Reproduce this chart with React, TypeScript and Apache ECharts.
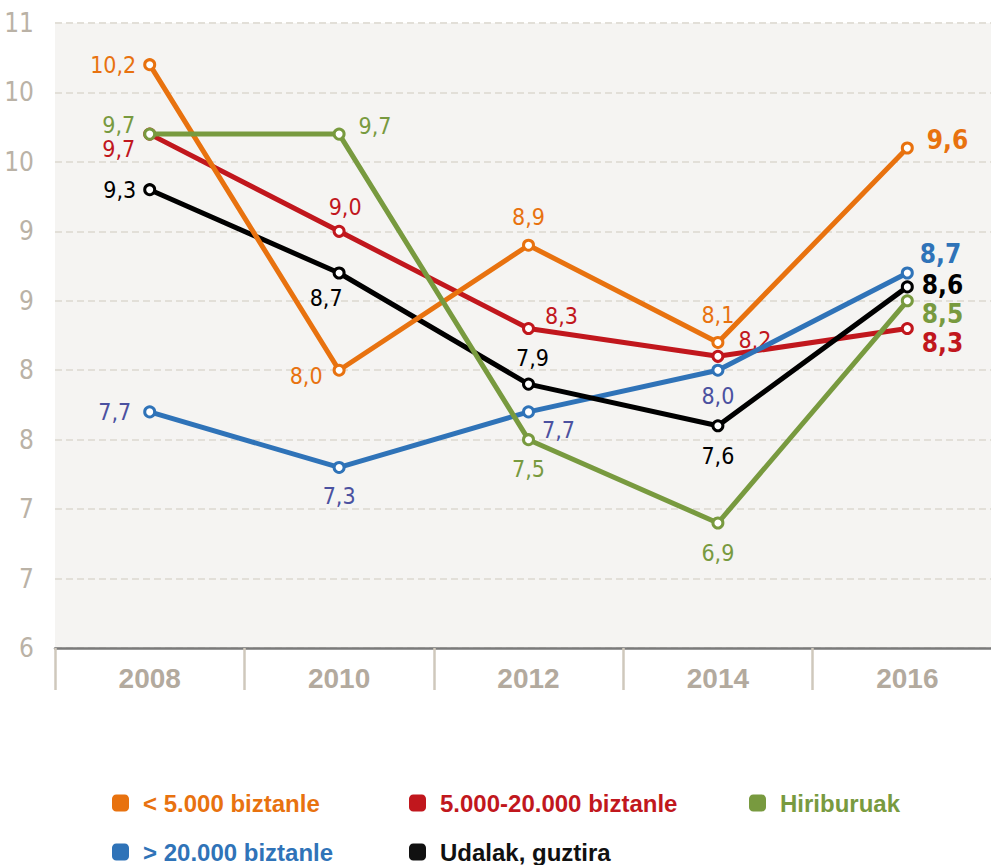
import React, { useEffect, useRef } from "react";
import * as echarts from "echarts";

const years = ["2008", "2010", "2012", "2014", "2016"];

const under5k = [10.2, 8.0, 8.9, 8.2, 9.6];
const under5kLabels = ["10,2", "8,0", "8,9", "8,1", "9,6"];
const mid5to20k = [9.7, 9.0, 8.3, 8.1, 8.3];
const mid5to20kLabels = ["9,7", "9,0", "8,3", "8,2", "8,3"];
const capitals = [9.7, 9.7, 7.5, 6.9, 8.5];
const capitalsLabels = ["9,7", "9,7", "7,5", "6,9", "8,5"];
const over20k = [7.7, 7.3, 7.7, 8.0, 8.7];
const over20kLabels = ["7,7", "7,3", "7,7", "8,0", "8,7"];
const total = [9.3, 8.7, 7.9, 7.6, 8.6];
const totalLabels = ["9,3", "8,7", "7,9", "7,6", "8,6"];

const NAME_UNDER5K = "< 5.000 biztanle";
const NAME_MID = "5.000-20.000 biztanle";
const NAME_CAP = "Hiriburuak";
const NAME_OVER20K = "> 20.000 biztanle";
const NAME_TOTAL = "Udalak, guztira";

const ORANGE = "#e8720f";
const RED = "#c1171d";
const GREEN = "#789a3f";
const BLUE = "#2f73b8";
const BLUE_LABEL = "#4b51a0";
const BLACK = "#000000";

const NARROW = "'Liberation Sans Narrow', 'DejaVu Sans Condensed', 'Roboto Condensed', Roboto, sans-serif";
const SANS = "'Liberation Sans', Arial, sans-serif";

type Layout = [string, number, number, number];

const orangeLayout: Layout[] = [["left", 7, 0, 0], ["left", 10, 0, 6], ["top", 10, 0, 0], ["top", 9, 0, 0], ["right", 13, 0, -8]];
const redLayout: Layout[] = [["left", 8, 0, 15], ["top", 6, 6, 0], ["right", 10, 0, -13], ["right", 14, 0, -16], ["right", 8, 0, 14]];
const greenLayout: Layout[] = [["left", 8, 0, -9], ["right", 13, 0, -8], ["bottom", 11, 0, 0], ["bottom", 12, 0, 0], ["right", 8, 0, 13]];
const blueLayout: Layout[] = [["left", 12, 0, 0], ["bottom", 11, 0, 0], ["right", 7, 0, 18], ["bottom", 8, 0, 0], ["right", 6, 0, -19]];
const blackLayout: Layout[] = [["left", 7, 0, 0], ["bottom", 7, -13, 0], ["top", 8, 4, 0], ["bottom", 12, 0, 0], ["right", 8, 0, -2]];

function makeSeries(name: string, values: number[], labels: string[], color: string, labelColor: string, layout: Layout[], z: number) {
  return {
    name,
    type: "line",
    z,
    symbol: "circle",
    symbolSize: 10,
    showAllSymbol: true,
    lineStyle: { color, width: 5 },
    itemStyle: { color: "#ffffff", borderColor: color, borderWidth: 3 },
    emphasis: { disabled: true },
    data: values.map((v, i) => {
      const [pos, dist, dx, dy] = layout[i];
      const last = i === values.length - 1;
      return {
        value: v,
        label: {
          show: true,
          position: pos,
          distance: dist,
          offset: [dx, dy],
          formatter: labels[i],
          color: last ? color : labelColor,
          fontSize: last ? 26 : 23,
          fontWeight: last ? "bold" : "normal",
          fontFamily: NARROW,
        },
      };
    }),
  };
}

const legendDefs = [
  { name: NAME_UNDER5K, color: ORANGE, left: 112, top: 791 },
  { name: NAME_MID, color: RED, left: 409, top: 791 },
  { name: NAME_CAP, color: GREEN, left: 749, top: 791 },
  { name: NAME_OVER20K, color: BLUE, left: 112, top: 840 },
  { name: NAME_TOTAL, color: "#111111", left: 409, top: 840 },
];

export default function App() {
  const ref = useRef<HTMLDivElement>(null);
  useEffect(() => {
    if (!ref.current) return;
    const chart = echarts.init(ref.current, null, { renderer: "svg" });
    chart.setOption({
      animation: false,
      backgroundColor: "#ffffff",
      grid: {
        left: 55,
        width: 947,
        top: 23,
        bottom: 217,
        show: true,
        backgroundColor: "#f5f4f2",
        borderWidth: 0,
        containLabel: false,
        outerBoundsMode: "none",
      },
      legend: legendDefs.map((l) => ({
        left: l.left,
        top: l.top,
        padding: 0,
        itemWidth: 17,
        itemHeight: 17,
        icon: "roundRect",
        selectedMode: false,
        data: [{ name: l.name, icon: "roundRect", itemStyle: { color: l.color, borderWidth: 0 } }],
        textStyle: {
          color: l.color,
          fontSize: 24,
          fontWeight: "bold",
          fontFamily: SANS,
          padding: [0, 0, 0, 9],
        },
      })),
      xAxis: {
        type: "category",
        data: years,
        boundaryGap: true,
        axisLine: { show: true, lineStyle: { color: "#7a7a7a", width: 2.5 } },
        axisTick: { show: true, length: 42, lineStyle: { color: "#cfc8bc", width: 2.5 } },
        axisLabel: { margin: 16, fontSize: 28, fontWeight: "bold", color: "#b3aa9e", fontFamily: SANS },
      },
      yAxis: {
        type: "value",
        min: 6,
        max: 10.5,
        interval: 0.5,
        axisLine: { show: false },
        axisTick: { show: false },
        splitLine: { show: true, lineStyle: { color: "#e2dfd8", width: 2, type: [7, 4] } },
        axisLabel: {
          margin: 21,
          fontSize: 26,
          color: "#bab2a6",
          fontFamily: NARROW,
          formatter: (v: number) => String(Math.round(v)),
        },
      },
      series: [
        makeSeries(NAME_MID, mid5to20k, mid5to20kLabels, RED, RED, redLayout, 2),
        makeSeries(NAME_OVER20K, over20k, over20kLabels, BLUE, BLUE_LABEL, blueLayout, 3),
        makeSeries(NAME_TOTAL, total, totalLabels, BLACK, BLACK, blackLayout, 4),
        makeSeries(NAME_UNDER5K, under5k, under5kLabels, ORANGE, ORANGE, orangeLayout, 5),
        makeSeries(NAME_CAP, capitals, capitalsLabels, GREEN, GREEN, greenLayout, 6),
      ],
    });
    return () => chart.dispose();
  }, []);
  return <div ref={ref} style={{ position: "fixed", left: 0, top: 0, width: 991, height: 865 }} />;
}
